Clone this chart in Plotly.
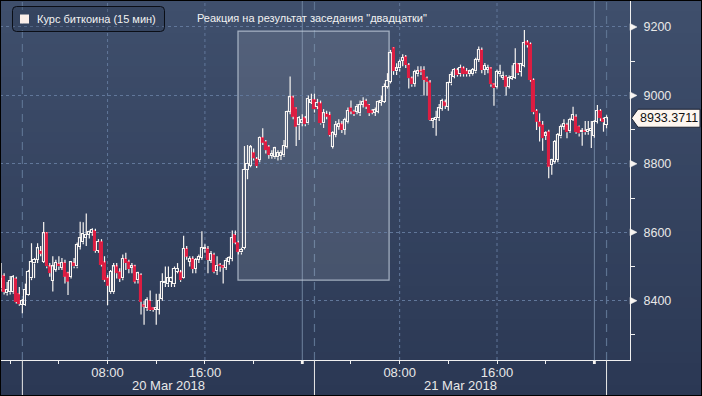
import plotly.graph_objects as go
import pandas as pd

# ---------------- data ----------------
open_ = [8436, 8472, 8422, 8425, 8425, 8464, 8419, 8388, 8388, 8417,
         8466, 8509, 8519, 8545, 8514, 8597, 8500, 8458, 8490, 8507,
         8497, 8510, 8480, 8470, 8510, 8500, 8558, 8571, 8583, 8592,
         8597, 8604, 8546, 8573, 8512, 8466, 8425, 8425, 8500, 8485,
         8466, 8522, 8514, 8496, 8501, 8460, 8475, 8387, 8378, 8399,
         8378, 8373, 8373, 8405, 8451, 8448, 8455, 8448, 8485, 8483,
         8467, 8551, 8514, 8522, 8493, 8519, 8526, 8550, 8551, 8516,
         8534, 8487, 8504, 8502, 8497, 8514, 8522, 8592, 8570, 8541,
         8555, 8782, 8794, 8833, 8814, 8811, 8877, 8865, 8850, 8823,
         8819, 8819, 8823, 8825, 8850, 8952, 8994, 8962, 8913, 8918,
         8933, 8918, 8979, 8988, 8967, 8977, 8918, 8946, 8943, 8850,
         8884, 8908, 8916, 8899, 8923, 8964, 8953, 8953, 8948, 8972,
         8984, 8972, 8955, 8950, 8952, 8978, 8982, 9026, 9040, 9138,
         9071, 9079, 9101, 9113, 9089, 9050, 9034, 9062, 9071, 9074,
         9050, 9038, 8925, 8928, 8933, 8960, 8980, 8967, 9035, 9055,
         9074, 9062, 9079, 9071, 9062, 9062, 9070, 9104, 9133, 9074,
         9075, 9079, 9032, 9026, 9062, 9052, 9055, 9026, 9048, 9052,
         9091, 9069, 9087, 9155, 9150, 9045, 8955, 8923, 8914, 8882,
         8894, 8797, 8806, 8812, 8880, 8909, 8914, 8896, 8928, 8938,
         8909, 8892, 8896, 8892, 8896, 8882, 8923, 8955, 8931, 8915]
high = [8510, 8480, 8455, 8472, 8475, 8470, 8440, 8405, 8450, 8490,
        8568, 8525, 8568, 8560, 8630, 8600, 8510, 8530, 8520, 8530,
        8525, 8520, 8485, 8515, 8525, 8570, 8631, 8629, 8655, 8605,
        8612, 8610, 8580, 8580, 8530, 8475, 8490, 8510, 8510, 8495,
        8535, 8540, 8520, 8510, 8505, 8485, 8480, 8400, 8410, 8430,
        8380, 8420, 8420, 8480, 8500, 8500, 8470, 8500, 8510, 8490,
        8590, 8560, 8530, 8530, 8525, 8535, 8603, 8565, 8560, 8545,
        8540, 8530, 8510, 8505, 8525, 8530, 8605, 8605, 8575, 8555,
        8852, 8855, 8855, 8845, 8820, 8880, 8904, 8870, 8855, 8840,
        8850, 8840, 8840, 8870, 8955, 9055, 9000, 8965, 8940, 8945,
        8940, 9000, 9005, 9005, 8990, 8985, 8960, 8955, 8952, 8895,
        8925, 8930, 8925, 8935, 8965, 8985, 8958, 8975, 8985, 8995,
        8990, 8975, 8960, 8965, 8985, 9000, 9035, 9065, 9133, 9140,
        9094, 9105, 9120, 9118, 9095, 9055, 9075, 9085, 9085, 9085,
        9055, 9045, 8935, 8955, 8975, 8990, 8988, 9040, 9070, 9080,
        9080, 9090, 9085, 9080, 9075, 9080, 9110, 9143, 9140, 9095,
        9090, 9082, 9035, 9075, 9090, 9070, 9060, 9058, 9088, 9138,
        9095, 9095, 9191, 9162, 9155, 9050, 8960, 8948, 8925, 8895,
        8900, 8815, 8870, 8890, 8915, 8930, 8920, 8935, 8967, 8945,
        8912, 8905, 8925, 8925, 8925, 8928, 8972, 8960, 8935, 8942]
low = [8427, 8418, 8415, 8418, 8420, 8392, 8385, 8363, 8385, 8415,
       8460, 8466, 8510, 8530, 8510, 8495, 8470, 8427, 8485, 8490,
       8490, 8450, 8417, 8465, 8495, 8495, 8550, 8565, 8560, 8582,
       8590, 8540, 8540, 8500, 8455, 8387, 8420, 8420, 8465, 8455,
       8460, 8490, 8480, 8480, 8450, 8450, 8360, 8330, 8370, 8370,
       8368, 8330, 8360, 8400, 8440, 8440, 8440, 8440, 8480, 8455,
       8465, 8520, 8500, 8480, 8480, 8510, 8520, 8540, 8480, 8510,
       8480, 8475, 8485, 8450, 8490, 8505, 8515, 8565, 8535, 8535,
       8550, 8755, 8790, 8810, 8788, 8805, 8855, 8830, 8815, 8815,
       8815, 8810, 8811, 8820, 8845, 8945, 8930, 8852, 8870, 8910,
       8910, 8915, 8975, 8950, 8960, 8915, 8905, 8930, 8880, 8845,
       8878, 8900, 8890, 8885, 8918, 8945, 8940, 8945, 8940, 8965,
       8960, 8940, 8945, 8940, 8948, 8970, 8978, 9020, 9035, 9060,
       9060, 9070, 9085, 9080, 9020, 9025, 9025, 9055, 9060, 9000,
       9000, 8925, 8905, 8882, 8925, 8955, 8960, 8955, 9030, 9050,
       9055, 9055, 9055, 9055, 9055, 9058, 9065, 9098, 9065, 9060,
       9065, 9025, 8970, 9020, 9055, 9045, 9000, 9020, 9045, 9048,
       9060, 9055, 9082, 9140, 9040, 8945, 8899, 8865, 8838, 8870,
       8758, 8768, 8800, 8805, 8875, 8900, 8875, 8890, 8925, 8888,
       8880, 8853, 8885, 8885, 8846, 8876, 8918, 8925, 8894, 8904]
close = [8464, 8425, 8432, 8458, 8468, 8396, 8390, 8398, 8432, 8485,
         8512, 8519, 8553, 8537, 8597, 8500, 8480, 8500, 8510, 8500,
         8510, 8470, 8456, 8512, 8500, 8563, 8582, 8594, 8592, 8600,
         8607, 8546, 8573, 8505, 8461, 8444, 8485, 8500, 8480, 8464,
         8522, 8510, 8493, 8501, 8456, 8480, 8397, 8383, 8402, 8373,
         8373, 8378, 8399, 8454, 8454, 8465, 8465, 8493, 8492, 8460,
         8551, 8529, 8522, 8493, 8519, 8529, 8555, 8555, 8519, 8536,
         8485, 8502, 8500, 8497, 8516, 8524, 8582, 8570, 8543, 8548,
         8782, 8800, 8848, 8816, 8794, 8877, 8862, 8840, 8826, 8829,
         8845, 8833, 8833, 8852, 8952, 8994, 8938, 8909, 8933, 8928,
         8916, 8991, 8988, 8959, 8977, 8918, 8948, 8938, 8884, 8891,
         8915, 8916, 8899, 8928, 8955, 8953, 8946, 8967, 8972, 8982,
         8967, 8948, 8950, 8957, 8982, 8984, 9026, 9043, 9123, 9071,
         9079, 9099, 9110, 9089, 9050, 9032, 9069, 9071, 9068, 9045,
         9040, 8928, 8931, 8935, 8962, 8984, 8970, 9035, 9060, 9074,
         9060, 9081, 9062, 9062, 9070, 9074, 9104, 9133, 9074, 9087,
         9080, 9032, 9022, 9069, 9069, 9058, 9026, 9052, 9055, 9091,
         9065, 9091, 9152, 9147, 9045, 8951, 8923, 8909, 8875, 8889,
         8792, 8811, 8865, 8884, 8909, 8917, 8892, 8928, 8943, 8892,
         8889, 8896, 8892, 8899, 8902, 8923, 8955, 8933, 8921, 8933.3711]
times = pd.date_range("2018-03-19 23:15", periods=len(close), freq="15min")

series_name = "Курс биткоина (15 мин)"
event_label = 'Реакция на результат заседания "двадцатки"'
last_price_text = "8933.3711"
y_major = [8400, 8600, 8800, 9000, 9200]
x_tick_times = ["2018-03-20 08:00", "2018-03-20 16:00", "2018-03-21 08:00", "2018-03-21 16:00"]
x_tick_text = ["08:00", "16:00", "08:00", "16:00"]
date_labels = ["20 Mar 2018", "21 Mar 2018"]
date_label_times = ["2018-03-20 13:00", "2018-03-21 13:00"]
day_separators = ["2018-03-20 01:00", "2018-03-21 01:00", "2018-03-22 01:00"]
midnights = ["2018-03-21 00:00", "2018-03-22 00:00"]
event_x = ["2018-03-20 18:43", "2018-03-21 07:08"]
event_y = [8460, 9188]

# ---------------- layout constants ----------------
W, H = 702, 396
ML, MR, MT, MB = 0, 72, 0, 36
PW, PH = W - ML - MR, H - MT - MB
X_RANGE = ["2018-03-19 23:09:42", "2018-03-22 02:55:40"]
Y_RANGE = [8226.7, 9278.9]
RED = "#dc1d42"
WHITE = "#f7f4f1"
GRID = "#61779a"


def px(xp):
    return xp / PW


def py(yp):
    return 1 - (yp - MT) / PH


def uy(price_px):
    return price_px * (Y_RANGE[1] - Y_RANGE[0]) / PH


shapes = []
# background gradient
top_c = (63, 79, 108)
bot_c = (43, 56, 84)
NB = 36
for k in range(NB):
    t = k / (NB - 1)
    c = tuple(round(top_c[j] + (bot_c[j] - top_c[j]) * t) for j in range(3))
    y0p = H * k / NB
    y1p = H * (k + 1) / NB + 0.6
    shapes.append(dict(type="rect", xref="paper", yref="paper", x0=0, x1=W / PW,
                       y0=py(y1p), y1=py(y0p), line=dict(width=0),
                       fillcolor="rgb(%d,%d,%d)" % c, layer="below"))

# event box
shapes.append(dict(type="rect", xref="x", yref="y", x0=event_x[0], x1=event_x[1],
                   y0=event_y[0], y1=event_y[1], fillcolor="rgba(255,255,255,0.11)",
                   line=dict(color="rgba(195,205,220,0.75)", width=1.3), layer="below"))

# vertical grid lines
for t in x_tick_times:
    shapes.append(dict(type="line", xref="x", yref="paper", x0=t, x1=t, y0=0, y1=1,
                       line=dict(color=GRID, width=1, dash="3px,3px"), layer="below"))
for t in midnights:
    shapes.append(dict(type="line", xref="x", yref="paper", x0=t, x1=t, y0=0, y1=1,
                       line=dict(color="#70849f", width=1), layer="below"))
    shapes.append(dict(type="rect", xref="x", yref="paper", x0=pd.Timestamp(t) - pd.Timedelta(minutes=7),
                       x1=pd.Timestamp(t) + pd.Timedelta(minutes=7), y0=py(364), y1=py(361),
                       fillcolor=WHITE, line=dict(width=0)))
for t in day_separators:
    shapes.append(dict(type="line", xref="x", yref="paper", x0=t, x1=t, y0=0, y1=1,
                       line=dict(color="#5d7391", width=1.2, dash="8px,6px"), layer="below"))
    shapes.append(dict(type="line", xref="x", yref="paper", x0=t, x1=t, y0=py(H), y1=0,
                       line=dict(color="#e8e8e8", width=1)))

# right axis triangles
for v in y_major:
    h = uy(3.5)
    shapes.append(dict(type="path", xref="paper", yref="y",
                       path="M %f,%f L %f,%f L %f,%f Z" % (px(PW), v + h, px(PW + 7), v, px(PW), v - h),
                       fillcolor=WHITE, line=dict(color=WHITE, width=0.5)))

# last price tag
last = close[-1]
tag_h = uy(9)
shapes.append(dict(type="path", xref="paper", yref="y",
                   path="M %f,%f L %f,%f L %f,%f L %f,%f L %f,%f Z" % (
                       px(PW + 1.5), last, px(PW + 8), last + tag_h, px(W - 2), last + tag_h,
                       px(W - 2), last - tag_h, px(PW + 8), last - tag_h),
                   fillcolor="#fdf6f0", line=dict(color="#1c2233", width=1)))

# legend box
lx0, lx1, ly0, ly1, r = 12.5, 164.5, 6.5, 31.5, 4
rx, ry = r / PW, r / PH
X0, X1, Y0, Y1 = px(lx0), px(lx1), py(ly1), py(ly0)
legend_path = ("M %f,%f L %f,%f Q %f,%f %f,%f L %f,%f Q %f,%f %f,%f L %f,%f Q %f,%f %f,%f "
               "L %f,%f Q %f,%f %f,%f Z") % (
    X0 + rx, Y1, X1 - rx, Y1, X1, Y1, X1, Y1 - ry, X1, Y0 + ry, X1, Y0, X1 - rx, Y0,
    X0 + rx, Y0, X0, Y0, X0, Y0 + ry, X0, Y1 - ry, X0, Y1, X0 + rx, Y1)
shapes.append(dict(type="path", xref="paper", yref="paper", path=legend_path,
                   fillcolor="rgba(25,35,55,0.22)", line=dict(color="#0b0e16", width=1)))
shapes.append(dict(type="rect", xref="paper", yref="paper", x0=px(20), x1=px(29),
                   y0=py(23.5), y1=py(14.5), fillcolor="#fbeee8", line=dict(width=0)))

# outer black frame
shapes.append(dict(type="rect", xref="paper", yref="paper", x0=0, x1=W / PW, y0=py(H), y1=1,
                   line=dict(color="#000000", width=2), fillcolor="rgba(0,0,0,0)"))

# ---------------- traces ----------------
body_base = [min(o, c) for o, c in zip(open_, close)]
body_len = [max(abs(c - o), 0.5) for o, c in zip(open_, close)]
rising = [c >= o for o, c in zip(open_, close)]
fill_cols = ["rgba(0,0,0,0)" if u else RED for u in rising]
edge_cols = [WHITE if u else RED for u in rising]

wx, wy = [], []
for t, o, h, l, c in zip(times, open_, high, low, close):
    top, bot = max(o, c), min(o, c)
    wx += [t, t, None, t, t, None]
    wy += [h, top, None, bot, l, None]

fig = go.Figure()
fig.add_trace(go.Scatter(x=wx, y=wy, mode="lines", line=dict(color=WHITE, width=1.2),
                         hoverinfo="skip", showlegend=False))
fig.add_trace(go.Bar(x=times, y=body_len, base=body_base, width=15 * 60 * 1000 * 0.7,
                     marker=dict(color=fill_cols, line=dict(color=edge_cols, width=1.1)),
                     name=series_name, showlegend=False))

annotations = [
    dict(xref="paper", yref="paper", x=px(35), y=py(19), xanchor="left", yanchor="middle",
         text=series_name, showarrow=False, font=dict(size=11, color="#f2f2f2", family="Liberation Sans")),
    dict(xref="paper", yref="paper", x=px(195), y=py(18), xanchor="left", yanchor="middle",
         text=event_label, showarrow=False, font=dict(size=11, color="#f2f2f2", family="Liberation Sans")),
    dict(xref="paper", yref="y", x=px(PW + 8), y=last, xanchor="left", yanchor="middle",
         text=last_price_text, showarrow=False, font=dict(size=12.5, color="#111111", family="Liberation Sans")),
]
for lab, t in zip(date_labels, date_label_times):
    annotations.append(dict(xref="x", yref="paper", x=t, y=py(385), xanchor="center", yanchor="middle",
                            text=lab, showarrow=False,
                            font=dict(size=13, color="#e8e8e8", family="Liberation Sans")))

fig.update_layout(
    width=W, height=H, margin=dict(l=ML, r=MR, t=MT, b=MB),
    paper_bgcolor="#2c3956", plot_bgcolor="rgba(0,0,0,0)",
    shapes=shapes, annotations=annotations, showlegend=False, bargap=0,
    xaxis=dict(type="date", range=X_RANGE, showgrid=False, zeroline=False,
               showline=True, linecolor="#f0f0f0", linewidth=1,
               tickvals=x_tick_times, ticktext=x_tick_text, ticks="",
               tickfont=dict(size=13, color="#e8e8e8", family="Liberation Sans"),
               minor=dict(dtick=4 * 3600 * 1000, tick0="2018-03-20 00:00", ticks="outside",
                          ticklen=3, tickcolor="#f0f0f0", showgrid=False)),
    yaxis=dict(side="right", range=Y_RANGE, showgrid=True, gridcolor=GRID, griddash="3px,3px",
               gridwidth=1, zeroline=False, showline=True, linecolor="#f0f0f0", linewidth=1,
               tickvals=y_major, ticks="", ticklabelstandoff=10,
               tickfont=dict(size=12.5, color="#e8e8e8", family="Liberation Sans"),
               minor=dict(dtick=100, tick0=8300, ticks="outside", ticklen=4,
                          tickcolor="#f0f0f0", showgrid=False)),
)

fig.write_html("out.html")
